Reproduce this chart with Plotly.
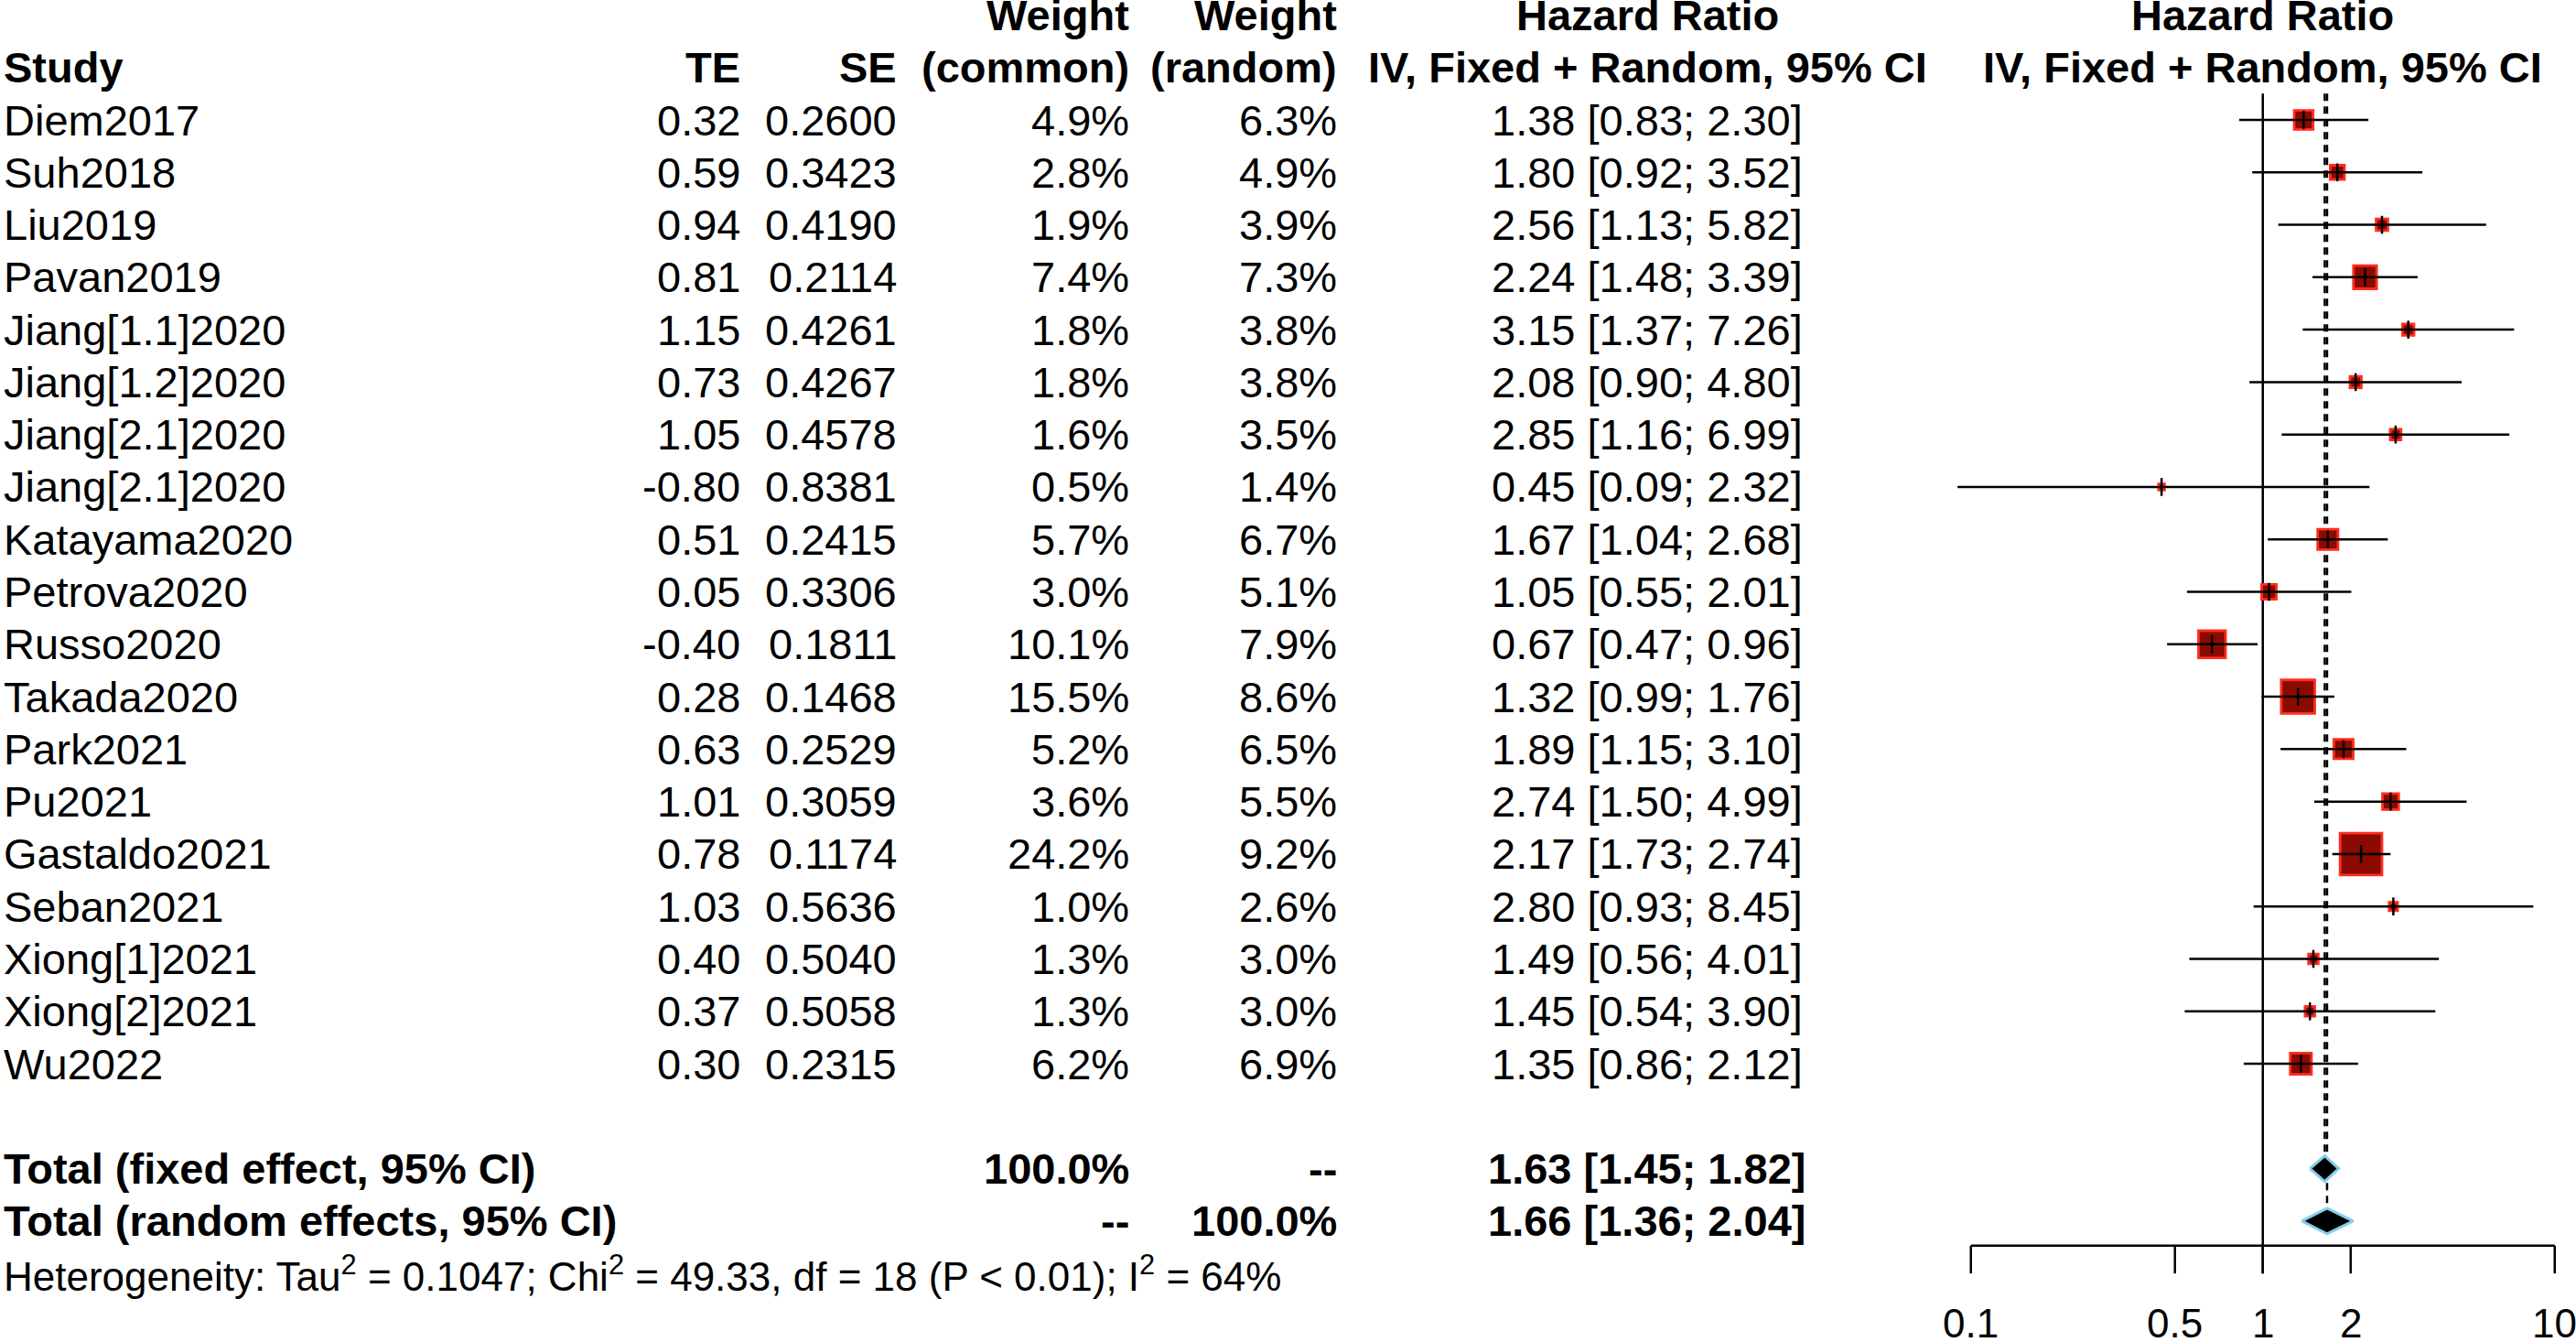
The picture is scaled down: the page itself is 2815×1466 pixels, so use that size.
import math
import plotly.graph_objects as go

# Study-level data
studies = ["Diem2017", "Suh2018", "Liu2019", "Pavan2019", "Jiang[1.1]2020", "Jiang[1.2]2020",
           "Jiang[2.1]2020", "Jiang[2.1]2020", "Katayama2020", "Petrova2020", "Russo2020",
           "Takada2020", "Park2021", "Pu2021", "Gastaldo2021", "Seban2021", "Xiong[1]2021",
           "Xiong[2]2021", "Wu2022"]
te = ["0.32", "0.59", "0.94", "0.81", "1.15", "0.73", "1.05", "-0.80", "0.51", "0.05", "-0.40",
      "0.28", "0.63", "1.01", "0.78", "1.03", "0.40", "0.37", "0.30"]
se = ["0.2600", "0.3423", "0.4190", "0.2114", "0.4261", "0.4267", "0.4578", "0.8381", "0.2415",
      "0.3306", "0.1811", "0.1468", "0.2529", "0.3059", "0.1174", "0.5636", "0.5040", "0.5058", "0.2315"]
w_common = [4.9, 2.8, 1.9, 7.4, 1.8, 1.8, 1.6, 0.5, 5.7, 3.0, 10.1, 15.5, 5.2, 3.6, 24.2, 1.0, 1.3, 1.3, 6.2]
w_random = [6.3, 4.9, 3.9, 7.3, 3.8, 3.8, 3.5, 1.4, 6.7, 5.1, 7.9, 8.6, 6.5, 5.5, 9.2, 2.6, 3.0, 3.0, 6.9]
hr = [1.38, 1.80, 2.56, 2.24, 3.15, 2.08, 2.85, 0.45, 1.67, 1.05, 0.67, 1.32, 1.89, 2.74, 2.17, 2.80, 1.49, 1.45, 1.35]
lo = [0.83, 0.92, 1.13, 1.48, 1.37, 0.90, 1.16, 0.09, 1.04, 0.55, 0.47, 0.99, 1.15, 1.50, 1.73, 0.93, 0.56, 0.54, 0.86]
hi = [2.30, 3.52, 5.82, 3.39, 7.26, 4.80, 6.99, 2.32, 2.68, 2.01, 0.96, 1.76, 3.10, 4.99, 2.74, 8.45, 4.01, 3.90, 2.12]

# Pooled estimates
pooled_labels = ["Total (fixed effect, 95% CI)", "Total (random effects, 95% CI)"]
pooled_wc = ["100.0%", "--"]
pooled_wr = ["--", "100.0%"]
pooled_hr = [1.63, 1.66]
pooled_lo = [1.45, 1.36]
pooled_hi = [1.82, 2.04]
hetero = "Heterogeneity: Tau<sup>2</sup> = 0.1047; Chi<sup>2</sup> = 49.33, df = 18 (P < 0.01); I<sup>2</sup> = 64%"

tick_vals = [0.1, 0.5, 1, 2, 10]
tick_text = ["0.1", "0.5", "1", "2", "10"]

W, H = 2815, 1466
FONT = "Liberation Sans, Arial, Helvetica, sans-serif"
FS = 47

n = len(studies)
rows = list(range(n))
y_fixed, y_random, y_het = n + 1, n + 2, n + 3
y_axis, y_tickend, y_ticklab = 21.47, 22.0, 22.95

fig = go.Figure()

# reference lines: null effect (solid) and pooled estimates (dashed)
fig.add_trace(go.Scatter(x=[1, 1], y=[-0.5, y_tickend], mode="lines",
                         line=dict(color="black", width=2.5), hoverinfo="skip"))
fig.add_trace(go.Scatter(x=[pooled_hr[0]] * 2, y=[-0.5, y_fixed - 0.25], mode="lines",
                         line=dict(color="black", width=2.5, dash="8px,6px"), hoverinfo="skip"))
fig.add_trace(go.Scatter(x=[pooled_hr[1]] * 2, y=[-0.5, y_random - 0.25], mode="lines",
                         line=dict(color="black", width=2.5, dash="8px,6px"), hoverinfo="skip"))

# squares sized by common-effect weight
fig.add_trace(go.Scatter(
    x=hr, y=rows, mode="markers", opacity=1,
    marker=dict(symbol="square", size=[9.3 * w ** 0.5 for w in w_common], opacity=1,
                color="#8B0A00", line=dict(color="#FF2D1E", width=2.8)),
    hoverinfo="skip"))

# CI whiskers
cx, cy = [], []
for i in rows:
    cx += [lo[i], hi[i], None]
    cy += [i, i, None]
fig.add_trace(go.Scatter(x=cx, y=cy, mode="lines", line=dict(color="black", width=2.5),
                         hoverinfo="skip"))
fig.add_trace(go.Scatter(x=hr, y=rows, mode="markers",
                         marker=dict(symbol="line-ns", size=14, opacity=1,
                                     line=dict(color="black", width=2.5)),
                         hoverinfo="skip"))

# pooled diamonds
for k, yy in enumerate([y_fixed, y_random]):
    h = 0.245
    fig.add_trace(go.Scatter(
        x=[pooled_lo[k], pooled_hr[k], pooled_hi[k], pooled_hr[k], pooled_lo[k]],
        y=[yy, yy - h, yy, yy + h, yy], mode="lines", fill="toself",
        fillcolor="black", line=dict(color="#87CEEB", width=3), hoverinfo="skip"))

# x axis drawn as in R meta
fig.add_trace(go.Scatter(x=[tick_vals[0], tick_vals[-1]], y=[y_axis, y_axis], mode="lines",
                         line=dict(color="black", width=2.5), hoverinfo="skip"))
tx, ty = [], []
for v in tick_vals:
    tx += [v, v, None]
    ty += [y_axis, y_tickend, None]
fig.add_trace(go.Scatter(x=tx, y=ty, mode="lines", line=dict(color="black", width=2.5),
                         hoverinfo="skip"))
for v, t in zip(tick_vals, tick_text):
    fig.add_annotation(x=math.log10(v), xref="x", y=y_ticklab, yref="y", text=t,
                       showarrow=False, xanchor="center", yanchor="middle", borderpad=0,
                       font=dict(family=FONT, size=44, color="black"))

# text columns (x in pixels)
col = dict(study=2, te=811, se=982, wc=1236, wr=1463, ci=1800, plot=2472)


def txt(x, y, s, anchor="right", bold=False, size=FS):
    if bold:
        s = "<b>" + s + "</b>"
    fig.add_annotation(x=x / W, xref="paper", y=y, yref="y", text=s, showarrow=False,
                       xanchor=anchor, yanchor="middle",
                       font=dict(family=FONT, size=size, color="black"))


# header
txt(col["wc"], -2, "Weight", bold=True)
txt(col["wr"], -2, "Weight", bold=True)
txt(col["ci"], -2, "Hazard Ratio", anchor="center", bold=True)
txt(col["plot"], -2, "Hazard Ratio", anchor="center", bold=True)
txt(col["study"], -1, "Study", anchor="left", bold=True)
txt(col["te"], -1, "TE", bold=True)
txt(col["se"], -1, "SE", bold=True)
txt(col["wc"], -1, "(common)", bold=True)
txt(col["wr"], -1, "(random)", bold=True)
txt(col["ci"], -1, "IV, Fixed + Random, 95% CI", anchor="center", bold=True)
txt(col["plot"], -1, "IV, Fixed + Random, 95% CI", anchor="center", bold=True)

for i in rows:
    txt(col["study"], i, studies[i], anchor="left")
    txt(col["te"], i, te[i])
    txt(col["se"], i, se[i])
    txt(col["wc"], i, f"{w_common[i]:.1f}%")
    txt(col["wr"], i, f"{w_random[i]:.1f}%")
    txt(col["ci"], i, f"{hr[i]:.2f} [{lo[i]:.2f}; {hi[i]:.2f}]", anchor="center")

for k, yy in enumerate([y_fixed, y_random]):
    txt(col["study"], yy, pooled_labels[k], anchor="left", bold=True)
    txt(col["wc"], yy, pooled_wc[k], bold=True)
    txt(col["wr"], yy, pooled_wr[k], bold=True)
    txt(col["ci"], yy, f"{pooled_hr[k]:.2f} [{pooled_lo[k]:.2f}; {pooled_hi[k]:.2f}]",
        anchor="center", bold=True)

txt(col["study"], y_het, hetero, anchor="left", size=44)

# pixel mapping: HR=1 at x=2472.75 px, 319 px per decade; row 0 at y=131 px, 57.28 px per row
x0, dec = 2472.75, 319.0
y0, step = 131.0, 57.28
fig.update_layout(
    width=W, height=H,
    margin=dict(l=0, r=0, t=0, b=0),
    paper_bgcolor="white", plot_bgcolor="white",
    showlegend=False,
    xaxis=dict(type="log", range=[-x0 / dec, (W - x0) / dec], visible=False, domain=[0, 1]),
    yaxis=dict(range=[(H - y0) / step, -y0 / step], visible=False, domain=[0, 1]),
)

# drop the default 8px body margin so the figure sits flush in the window
fig.write_html("out.html", config={"displayModeBar": False},
               post_script="document.body.style.margin='0';document.body.style.overflow='hidden';")
